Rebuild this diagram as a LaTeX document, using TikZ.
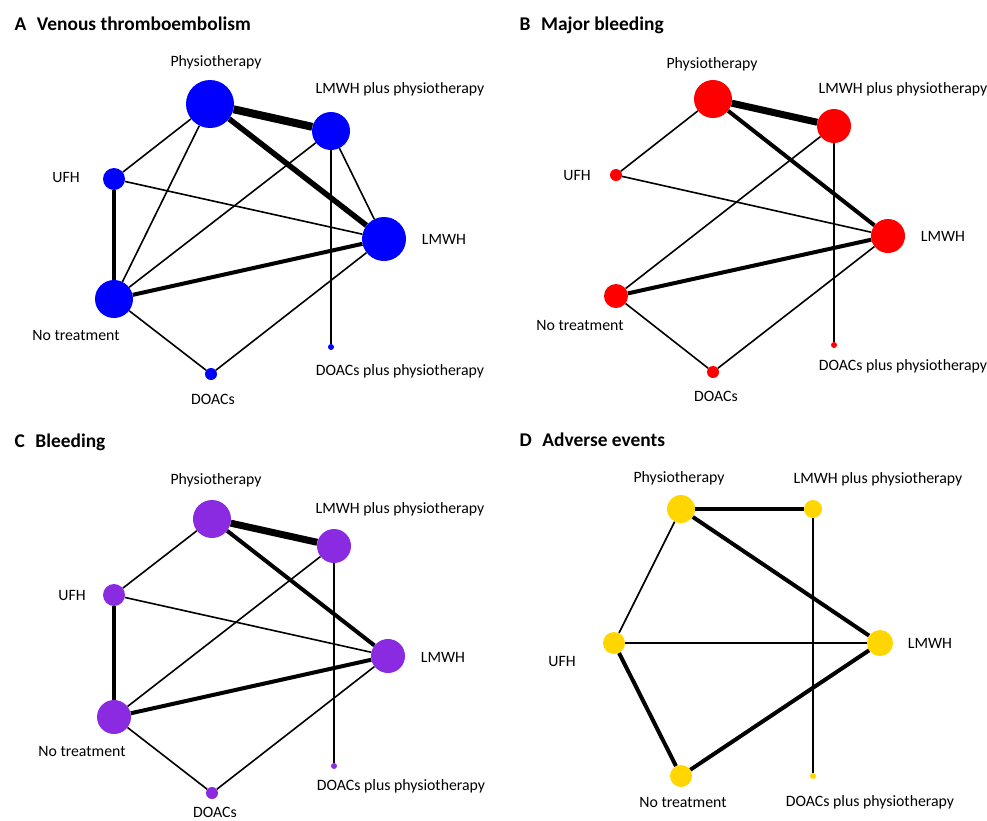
\documentclass[tikz,border=0pt]{standalone}
\usepackage{fontspec}
\setmainfont{Carlito}
\usepackage{xcolor}
\usepackage{tikz}
\definecolor{AzulTev}{RGB}{0,0,255}
\definecolor{RojoMayor}{RGB}{255,0,0}
\definecolor{MoradoSang}{RGB}{138,43,226}
\definecolor{AmarilloAdv}{RGB}{255,214,0}
\tikzset{
  trat/.style={circle,inner sep=0pt,minimum size=#1},
  etiq/.style={font=\fontsize{15.8}{18}\selectfont},
  titulo/.style={anchor=base west,font=\fontsize{19.4}{23}\selectfont\bfseries},
  arista/.style={line width=#1},
  arista/.default=1.6pt
}

\begin{document}
\begin{tikzpicture}[x=1pt,y=-1pt]
  \useasboundingbox (0,0) rectangle (987,820);
  % A: venous thromboembolism
  \node[titulo] (tA) at (11,30) {A\hspace{0.55em}Venous thromboembolism};
  \node[trat=48pt,fill=AzulTev] (aFis) at (210,104) {};
  \node[trat=38pt,fill=AzulTev] (aLP) at (331,131) {};
  \node[trat=22pt,fill=AzulTev] (aUFH) at (114,179) {};
  \node[trat=44pt,fill=AzulTev] (aLM) at (384,239) {};
  \node[trat=38pt,fill=AzulTev] (aNo) at (114,299) {};
  \node[trat=12pt,fill=AzulTev] (aDO) at (211,374) {};
  \node[trat=6pt,fill=AzulTev] (aDP) at (331,347) {};
  \node[etiq] (laFis) at (216,62) {Physiotherapy};
  \node[etiq] (laLP) at (400,89) {LMWH plus physiotherapy};
  \node[etiq] (laUFH) at (66,177) {UFH};
  \node[etiq] (laLM) at (444,239) {LMWH};
  \node[etiq] (laNo) at (76,335) {No treatment};
  \node[etiq] (laDO) at (213,399) {DOACs};
  \node[etiq] (laDP) at (400,371) {DOACs plus physiotherapy};
  \draw[arista=8pt] (aFis) -- (aLP);
  \draw[arista=5.5pt] (aFis) -- (aLM);
  \draw[arista] (aFis) -- (aUFH);
  \draw[arista] (aFis) -- (aNo);
  \draw[arista] (aUFH) -- (aLM);
  \draw[arista=3.8pt] (aUFH) -- (aNo);
  \draw[arista] (aLP) -- (aNo);
  \draw[arista] (aLP) -- (aLM);
  \draw[arista] (aLP) -- (aDP);
  \draw[arista=4pt] (aNo) -- (aLM);
  \draw[arista] (aNo) -- (aDO);
  \draw[arista] (aLM) -- (aDO);

  % B: major bleeding
  \node[titulo] (tB) at (516,30) {B\hspace{0.55em}Major bleeding};
  \node[trat=38pt,fill=RojoMayor] (bFis) at (713,99) {};
  \node[trat=34pt,fill=RojoMayor] (bLP) at (834,126) {};
  \node[trat=12pt,fill=RojoMayor] (bUFH) at (616,175) {};
  \node[trat=34pt,fill=RojoMayor] (bLM) at (888,236) {};
  \node[trat=24pt,fill=RojoMayor] (bNo) at (616,296) {};
  \node[trat=12pt,fill=RojoMayor] (bDO) at (713,372) {};
  \node[trat=6pt,fill=RojoMayor] (bDP) at (834,345) {};
  \node[etiq] (lbFis) at (712,64) {Physiotherapy};
  \node[etiq] (lbLP) at (903,89) {LMWH plus physiotherapy};
  \node[etiq] (lbUFH) at (577,175) {UFH};
  \node[etiq] (lbLM) at (943,236) {LMWH};
  \node[etiq] (lbNo) at (580,325) {No treatment};
  \node[etiq] (lbDO) at (716,396) {DOACs};
  \node[etiq] (lbDP) at (903,366) {DOACs plus physiotherapy};
  \draw[arista=7pt] (bFis) -- (bLP);
  \draw[arista=4pt] (bFis) -- (bLM);
  \draw[arista] (bFis) -- (bUFH);
  \draw[arista] (bUFH) -- (bLM);
  \draw[arista] (bLP) -- (bNo);
  \draw[arista] (bLP) -- (bDP);
  \draw[arista=4pt] (bNo) -- (bLM);
  \draw[arista] (bNo) -- (bDO);
  \draw[arista] (bLM) -- (bDO);

  % C: bleeding
  \node[titulo] (tC) at (11,447) {C\hspace{0.55em}Bleeding};
  \node[trat=38pt,fill=MoradoSang] (cFis) at (212,519) {};
  \node[trat=34pt,fill=MoradoSang] (cLP) at (334,546) {};
  \node[trat=22pt,fill=MoradoSang] (cUFH) at (114,595) {};
  \node[trat=34pt,fill=MoradoSang] (cLM) at (388,656) {};
  \node[trat=34pt,fill=MoradoSang] (cNo) at (114,717) {};
  \node[trat=12pt,fill=MoradoSang] (cDO) at (212,793) {};
  \node[trat=6pt,fill=MoradoSang] (cDP) at (334,766) {};
  \node[etiq] (lcFis) at (216,480) {Physiotherapy};
  \node[etiq] (lcLP) at (400,509) {LMWH plus physiotherapy};
  \node[etiq] (lcUFH) at (72,595) {UFH};
  \node[etiq] (lcLM) at (443,657) {LMWH};
  \node[etiq] (lcNo) at (82,751) {No treatment};
  \node[etiq] (lcDO) at (215,812) {DOACs};
  \node[etiq] (lcDP) at (401,786) {DOACs plus physiotherapy};
  \draw[arista=7pt] (cFis) -- (cLP);
  \draw[arista=4pt] (cFis) -- (cLM);
  \draw[arista] (cFis) -- (cUFH);
  \draw[arista] (cUFH) -- (cLM);
  \draw[arista=4pt] (cUFH) -- (cNo);
  \draw[arista] (cLP) -- (cNo);
  \draw[arista] (cLP) -- (cDP);
  \draw[arista=4pt] (cNo) -- (cLM);
  \draw[arista] (cNo) -- (cDO);
  \draw[arista] (cLM) -- (cDO);

  % D: adverse events
  \node[titulo] (tD) at (516,446) {D\hspace{0.55em}Adverse events};
  \node[trat=28pt,fill=AmarilloAdv] (dFis) at (681,509) {};
  \node[trat=18pt,fill=AmarilloAdv] (dLP) at (813,509) {};
  \node[trat=22pt,fill=AmarilloAdv] (dUFH) at (614,643) {};
  \node[trat=26pt,fill=AmarilloAdv] (dLM) at (880,643) {};
  \node[trat=22pt,fill=AmarilloAdv] (dNo) at (681,776) {};
  \node[trat=6pt,fill=AmarilloAdv] (dDP) at (813,776) {};
  \node[etiq] (ldFis) at (679,478) {Physiotherapy};
  \node[etiq] (ldLP) at (878,479) {LMWH plus physiotherapy};
  \node[etiq] (ldUFH) at (562,661) {UFH};
  \node[etiq] (ldLM) at (930,643) {LMWH};
  \node[etiq] (ldNo) at (683,802) {No treatment};
  \node[etiq] (ldDP) at (870,802) {DOACs plus physiotherapy};
  \draw[arista=4.5pt] (dFis) -- (dLP);
  \draw[arista=4pt] (dFis) -- (dLM);
  \draw[arista] (dFis) -- (dUFH);
  \draw[arista] (dUFH) -- (dLM);
  \draw[arista=4pt] (dUFH) -- (dNo);
  \draw[arista=4pt] (dNo) -- (dLM);
  \draw[arista] (dLP) -- (dDP);
\end{tikzpicture}
\end{document}
